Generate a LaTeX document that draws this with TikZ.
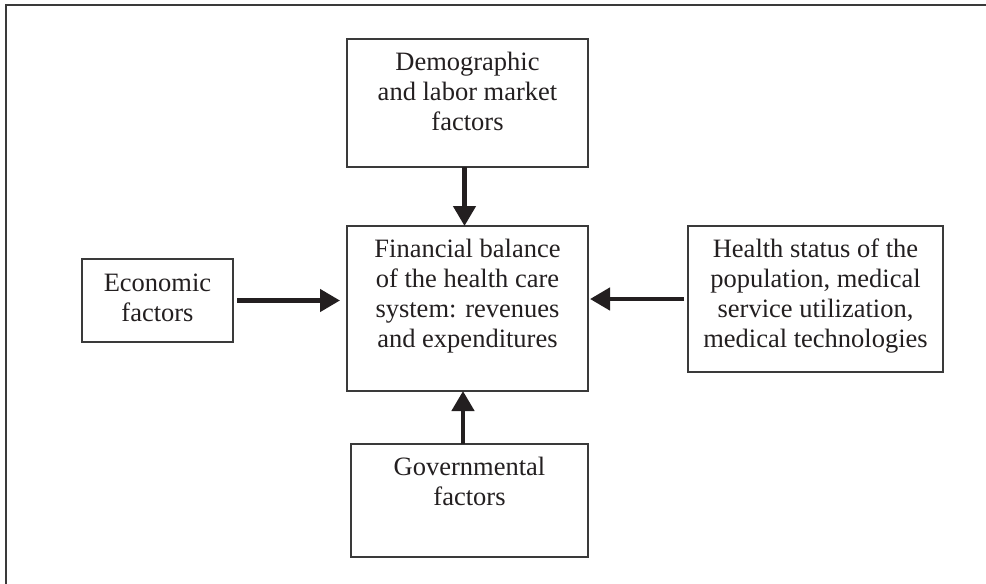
\documentclass[tikz,border=0pt]{standalone}
\usepackage{fontspec}
\setmainfont{Liberation Serif}
\usetikzlibrary{arrows.meta}
\definecolor{ink}{HTML}{231F20}
\definecolor{edgec}{HTML}{3A3A3A}
\begin{document}
\begin{tikzpicture}[x=1pt,y=-1pt,
  box/.style={draw=edgec, line width=1.3pt, inner sep=0pt, outer sep=0pt, anchor=north west},
  txt/.style={text=ink, font=\fontsize{26.5}{30}\selectfont, align=center, inner sep=0pt, anchor=north},
  arr/.style={draw=ink, line width=4.5pt, -{Triangle[length=20pt,width=22pt]}}]
\useasboundingbox (0,0) rectangle (986,584);
\draw[edgec, line width=2pt] (5.5,584) -- (5.5,4.5) -- (986,4.5);

\node[box, minimum width=241pt, minimum height=128pt] (demo) at (347,39) {};
\node[txt] (demoT) at ([yshift=-13pt]demo.north) {Demographic\\and labor market\\factors};

\node[box, minimum width=241pt, minimum height=165pt] (center) at (347,226) {};
\node[txt] (centerT) at ([yshift=-13pt]center.north) {Financial balance\\of the health care\\system: revenues\\and expenditures};

\node[box, minimum width=151pt, minimum height=83pt] (econ) at (82,259) {};
\node[txt] (econT) at ([yshift=-15pt]econ.north) {Economic\\factors};

\node[box, minimum width=255pt, minimum height=146pt] (health) at (688,226) {};
\node[txt] (healthT) at ([yshift=-13pt]health.north) {Health status of the\\population, medical\\service utilization,\\medical technologies};

\node[box, minimum width=237pt, minimum height=113pt] (gov) at (351,444) {};
\node[txt] (govT) at ([yshift=-13pt]gov.north) {Governmental\\factors};

\draw[arr] ([xshift=-3pt]demo.south) -- ([xshift=-3pt]center.north);
\draw[arr] ([xshift=4pt]econ.east) -- ([xshift=-7pt]center.west |- econ.east);
\draw[arr] ([xshift=-4pt]health.west) -- ([xshift=2pt]center.east |- health.west);
\draw[arr] ([xshift=-6.5pt]gov.north) -- ([xshift=-6.5pt]gov.north |- center.south);
\end{tikzpicture}
\end{document}
